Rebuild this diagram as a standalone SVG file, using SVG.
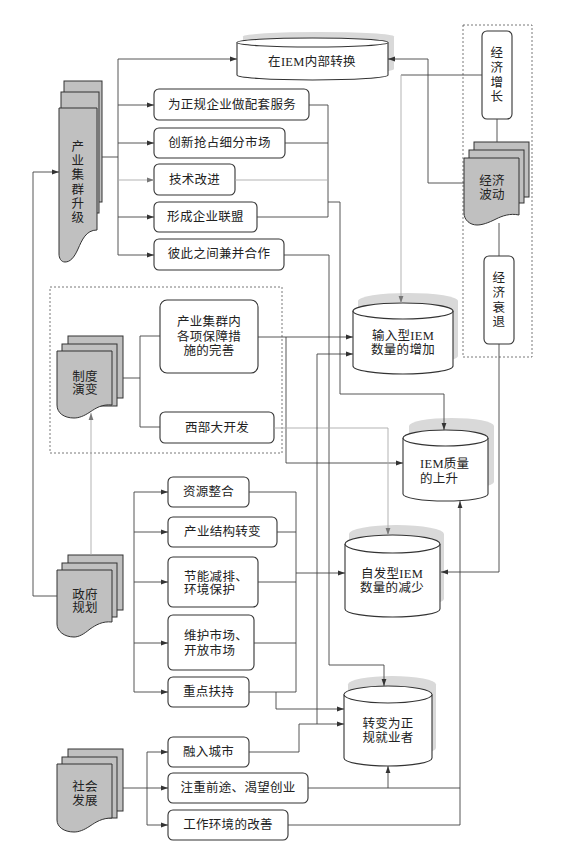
<svg xmlns="http://www.w3.org/2000/svg" width="561" height="845" viewBox="0 0 561 845">
<defs>
<marker id="ah" markerUnits="userSpaceOnUse" markerWidth="7" markerHeight="6" refX="7" refY="3" orient="auto"><path d="M0,0.6 L7,3 L0,5.4 Z" fill="#333"/></marker>
<marker id="ahl" markerUnits="userSpaceOnUse" markerWidth="7" markerHeight="6" refX="7" refY="3" orient="auto"><path d="M0,0.6 L7,3 L0,5.4 Z" fill="#777"/></marker>
</defs>
<style>
.ln{fill:none;stroke:#444;stroke-width:0.9}
.lt{fill:none;stroke:#aaa;stroke-width:0.9}
.bx{fill:#fff;stroke:#333;stroke-width:1.1}
.doc{fill:#c0c0c0;stroke:#333;stroke-width:1}
.sh{fill:#d9d9d9}
.cy{fill:#fff;stroke:#333;stroke-width:1.1}
.dash{fill:none;stroke:#555;stroke-width:0.8;stroke-dasharray:2 2}
text{font-family:"Liberation Serif","Noto Sans CJK SC",serif;font-size:12.5px;fill:#222;text-anchor:middle;dominant-baseline:central;letter-spacing:0.3px}
.l{text-anchor:start}
</style>
<rect width="561" height="845" fill="#fff"/>

<g id="groups">
<rect class="dash" x="463" y="25" width="69" height="332"/>
<rect class="dash" x="50" y="287" width="232" height="166"/>
</g>

<g id="n-chanye">
<rect class="doc" x="64" y="81" width="38" height="121"/>
<rect class="doc" x="61" y="92" width="38" height="121"/>
<path class="doc" d="M59,108 H97 V230 C86,230 82,240 78,249 C74,258 70,262 65,262 C61,262 59,258 59,254 Z"/>
<text x="78"><tspan x="78" y="147">产</tspan><tspan x="78" y="161">业</tspan><tspan x="78" y="175">集</tspan><tspan x="78" y="190">群</tspan><tspan x="78" y="204">升</tspan><tspan x="78" y="218">级</tspan></text>
</g>

<g id="n-neibu">
<path class="sh" d="M243,36.5 A75.5,4.5 0 0 1 394,36.5 V69 A75.5,5 0 0 1 243,69 Z"/>
<path class="cy" d="M237,42.5 A75.5,4.5 0 0 1 388,42.5 V75 A75.5,5 0 0 1 237,75 Z"/>
<path class="cy" fill="none" d="M237,42.5 A75.5,4.5 0 0 0 388,42.5"/>
<text x="312" y="62">在IEM内部转换</text>
</g>

<g id="n-b1"><rect class="bx" x="154" y="89" width="155" height="31" rx="5"/><text x="232" y="105">为正规企业做配套服务</text></g>
<g id="n-b2"><rect class="bx" x="154" y="128" width="131" height="30" rx="5"/><text x="219.5" y="143">创新抢占细分市场</text></g>
<g id="n-b3"><rect class="bx" x="154" y="164" width="81" height="31" rx="5"/><text x="194.5" y="180">技术改进</text></g>
<g id="n-b4"><rect class="bx" x="154" y="202" width="103" height="30" rx="5"/><text x="205.5" y="217">形成企业联盟</text></g>
<g id="n-b5"><rect class="bx" x="154" y="239" width="130" height="31" rx="5"/><text x="219" y="254">彼此之间兼并合作</text></g>

<g id="n-zengzhang"><rect class="bx" x="482" y="31" width="30" height="88" rx="5"/>
<text x="497"><tspan x="497" y="53">经</tspan><tspan x="497" y="68">济</tspan><tspan x="497" y="83">增</tspan><tspan x="497" y="97">长</tspan></text></g>

<g id="n-bodong">
<rect class="doc" x="474" y="142" width="55" height="55"/>
<rect class="doc" x="469" y="150" width="55" height="53"/>
<path class="doc" d="M464,158 H519 V215 C510,213 502,216 496,219 C488,223 482,225 477,225 C470,225 464,220 464,213 Z"/>
<text x="492"><tspan x="492" y="181">经济</tspan><tspan x="492" y="195">波动</tspan></text>
</g>

<g id="n-shuaitui"><rect class="bx" x="484" y="256" width="30" height="88" rx="5"/>
<text x="499"><tspan x="499" y="278">经</tspan><tspan x="499" y="293">济</tspan><tspan x="499" y="308">衰</tspan><tspan x="499" y="322">退</tspan></text></g>

<g id="n-zhidu">
<rect class="doc" x="68" y="336" width="55" height="62"/>
<rect class="doc" x="62" y="344" width="55" height="62"/>
<path class="doc" d="M57,351 H112 V405 C102,404 96,408 90,412 C84,416 79,418 74,418 C64,418 57,413 57,405 Z"/>
<text x="85"><tspan x="85" y="377">制度</tspan><tspan x="85" y="390">演变</tspan></text>
</g>

<g id="n-baozhang"><rect class="bx" x="160" y="300" width="98" height="73" rx="7"/>
<text x="209"><tspan x="209" y="322">产业集群内</tspan><tspan x="209" y="336.5">各项保障措</tspan><tspan x="209" y="351">施的完善</tspan></text></g>
<g id="n-xibu"><rect class="bx" x="160" y="412" width="114" height="31" rx="5"/><text x="217" y="428">西部大开发</text></g>

<g id="n-shuru">
<path class="sh" d="M358,301 A50,8 0 0 1 458,301 V356 A50,8 0 0 1 358,356 Z"/>
<path class="cy" d="M353,311 A50,8 0 0 1 453,311 V366 A50,8 0 0 1 353,366 Z"/>
<path class="cy" fill="none" d="M353,311 A50,8 0 0 0 453,311"/>
<text x="403"><tspan x="403" y="335.5">输入型IEM</tspan><tspan x="403" y="350">数量的增加</tspan></text>
</g>

<g id="n-zhiliang">
<path class="sh" d="M409,426 A42.5,8 0 0 1 494,426 V482 A42.5,7 0 0 1 409,482 Z"/>
<path class="cy" d="M403,438 A42.5,8 0 0 1 488,438 V494 A42.5,7 0 0 1 403,494 Z"/>
<path class="cy" fill="none" d="M403,438 A42.5,8 0 0 0 488,438"/>
<text class="l"><tspan class="l" x="420" y="464">IEM质量</tspan><tspan class="l" x="420" y="479">的上升</tspan></text>
</g>

<g id="n-zifa">
<path class="sh" d="M349,534 A47.5,9 0 0 1 444,534 V599 A47.5,8 0 0 1 349,599 Z"/>
<path class="cy" d="M345,544 A47.5,9 0 0 1 440,544 V609 A47.5,8 0 0 1 345,609 Z"/>
<path class="cy" fill="none" d="M345,544 A47.5,9 0 0 0 440,544"/>
<text x="392"><tspan x="392" y="574">自发型IEM</tspan><tspan x="392" y="588">数量的减少</tspan></text>
</g>

<g id="n-zhengfu">
<rect class="doc" x="68" y="555" width="55" height="55"/>
<rect class="doc" x="62" y="563" width="55" height="54"/>
<path class="doc" d="M57,570 H112 V622 C102,621 96,625 90,629 C84,634 79,637 74,637 C64,637 57,631 57,624 Z"/>
<text x="85"><tspan x="85" y="595">政府</tspan><tspan x="85" y="608">规划</tspan></text>
</g>

<g id="n-g1"><rect class="bx" x="168" y="477" width="81" height="30" rx="5"/><text x="208.5" y="492">资源整合</text></g>
<g id="n-g2"><rect class="bx" x="168" y="517" width="109" height="30" rx="5"/><text x="222.5" y="532">产业结构转变</text></g>
<g id="n-g3"><rect class="bx" x="168" y="557" width="90" height="50" rx="5"/><text class="l"><tspan class="l" x="184" y="576.5">节能减排、</tspan><tspan class="l" x="184" y="590">环境保护</tspan></text></g>
<g id="n-g4"><rect class="bx" x="168" y="615" width="86" height="55" rx="5"/><text class="l"><tspan class="l" x="184" y="636">维护市场、</tspan><tspan class="l" x="184" y="651">开放市场</tspan></text></g>
<g id="n-g5"><rect class="bx" x="168" y="677" width="81" height="30" rx="5"/><text x="208.5" y="692">重点扶持</text></g>

<g id="n-zhuanbian">
<path class="sh" d="M348,684.5 A44,8.5 0 0 1 436,684.5 V748 A44,8 0 0 1 348,748 Z"/>
<path class="cy" d="M344,694.5 A44,8.5 0 0 1 432,694.5 V758 A44,8 0 0 1 344,758 Z"/>
<path class="cy" fill="none" d="M344,694.5 A44,8.5 0 0 0 432,694.5"/>
<text x="388"><tspan x="388" y="724">转变为正</tspan><tspan x="388" y="738">规就业者</tspan></text>
</g>

<g id="n-shehui">
<rect class="doc" x="68" y="749" width="55" height="62"/>
<rect class="doc" x="62" y="757" width="55" height="61"/>
<path class="doc" d="M57,764 H112 V818 C102,818 96,822 90,826 C84,830 79,832 74,832 C64,832 57,827 57,820 Z"/>
<text x="85"><tspan x="85" y="787">社会</tspan><tspan x="85" y="801">发展</tspan></text>
</g>

<g id="n-s1"><rect class="bx" x="168" y="737" width="81" height="30" rx="5"/><text x="208.5" y="752">融入城市</text></g>
<g id="n-s2"><rect class="bx" x="168" y="773" width="140" height="30" rx="5"/><text x="238" y="788">注重前途、渴望创业</text></g>
<g id="n-s3"><rect class="bx" x="168" y="810" width="120" height="30" rx="5"/><text x="228" y="825">工作环境的改善</text></g>

<g id="connectors">
<!-- 产业集群升级 -->
<path class="ln" d="M102,157 H118 M118,59 V255"/>
<path class="ln" marker-end="url(#ah)" d="M118,59 H237"/>
<path class="ln" marker-end="url(#ah)" d="M118,105 H154"/>
<path class="ln" marker-end="url(#ah)" d="M118,143 H154"/>
<path class="lt" marker-end="url(#ahl)" d="M118,180 H154"/>
<path class="ln" marker-end="url(#ah)" d="M118,217 H154"/>
<path class="ln" marker-end="url(#ah)" d="M118,255 H154"/>
<path class="ln" d="M309,105 H328 V217 M285,143 H328 M257,217 H328"/>
<path class="lt" d="M235,180 H328"/>
<path class="ln" marker-end="url(#ah)" d="M328,202 H340 V394 H444 V430"/>
<path class="ln" marker-end="url(#ah)" d="M284,255 H329 V665 H384 V686"/>
<!-- 经济 -->
<path class="ln" d="M482,75 H401"/>
<path class="lt" marker-end="url(#ahl)" d="M401,75 V303"/>
<path class="ln" marker-end="url(#ah)" d="M464,183 H428 V59 H388"/>
<path class="ln" d="M497,119 V142 M499,223 V256"/>
<path class="ln" marker-end="url(#ah)" d="M499,344 V572 H441"/>
<!-- 制度演变 -->
<path class="ln" d="M123,378 H140 M140,336 V427 M140,336 H160 M140,427 H160"/>
<path class="ln" marker-end="url(#ah)" d="M258,337 H353"/>
<path class="ln" marker-end="url(#ah)" d="M286,337 V463 H403"/>
<path class="lt" marker-end="url(#ahl)" d="M274,428 H388 V535"/>
<path class="lt" marker-end="url(#ahl)" d="M91,555 V413"/>
<!-- 政府规划 -->
<path class="ln" marker-end="url(#ah)" d="M57,596 H33 V172 H59"/>
<path class="ln" d="M134,492 V692"/>
<path class="ln" marker-end="url(#ah)" d="M134,492 H168"/>
<path class="ln" marker-end="url(#ah)" d="M134,532 H168"/>
<path class="ln" marker-end="url(#ah)" d="M134,582 H168"/>
<path class="ln" marker-end="url(#ah)" d="M134,643 H168"/>
<path class="ln" marker-end="url(#ah)" d="M134,692 H168"/>
<path class="ln" d="M249,492 H296 M277,532 H296 M258,582 H296 M254,643 H296 M249,692 H296 M296,492 V692"/>
<path class="ln" marker-end="url(#ah)" d="M296,573 H345"/>
<path class="ln" marker-end="url(#ah)" d="M276,692 V709 H344"/>
<!-- 社会发展 -->
<path class="ln" d="M123,788 H147 M147,752 V825"/>
<path class="ln" marker-end="url(#ah)" d="M147,752 H168"/>
<path class="ln" marker-end="url(#ah)" d="M147,788 H168"/>
<path class="ln" marker-end="url(#ah)" d="M147,825 H168"/>
<path class="ln" marker-end="url(#ah)" d="M249,752 H299 V724 H344"/>
<path class="ln" marker-end="url(#ah)" d="M317,724 V354 H353"/>
<path class="ln" d="M308,788 H460"/>
<path class="ln" marker-end="url(#ah)" d="M388,788 V766"/>
<path class="ln" marker-end="url(#ah)" d="M288,825 H460 V501"/>
</g>
</svg>
